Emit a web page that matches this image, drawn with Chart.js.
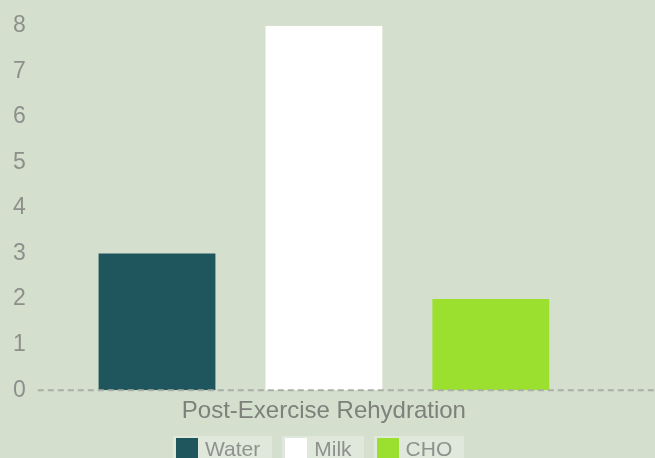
<!DOCTYPE html>
<html>
<head>
<meta charset="utf-8">
<script src="https://cdn.jsdelivr.net/npm/chart.js@4.4.1/dist/chart.umd.min.js"></script>
<style>
  html, body { margin: 0; padding: 0; overflow: hidden; background: #d4dfcd; }
  #wrap { position: relative; width: 655px; height: 458px; }
  #legend { position: absolute; left: 173px; top: 436px; display: flex;
            font-family: 'Liberation Sans', Arial, sans-serif; font-size: 21px; color: #8f918d; }
  .item { display: flex; align-items: center; height: 22px; padding: 2px 12px 10px 3px;
          margin-right: 10px; background: rgba(255,255,255,0.28); }
  .swatch { width: 22px; height: 22px; margin-right: 7px; }
</style>
</head>
<body>
<div id="wrap"><canvas id="chartArea"></canvas><div id="legend"></div></div>
<script>
'use strict'
const categories = ['Post-Exercise Rehydration'];
const seriesNames = ['Water', 'Milk', 'CHO'];
const waterValues = [3];
const milkValues = [8];
const choValues = [2];
const seriesColors = ['#1f565d', '#ffffff', '#9be02e'];
const yTicks = [0, 1, 2, 3, 4, 5, 6, 7, 8];

// dashed zero line, drawn over the bars and out to the right edge
const zeroLine = {
    id: 'zeroLine',
    afterDatasetsDraw(chart) {
        let ctx = chart.ctx;
        let y = chart.scales.y.getPixelForValue(0);
        ctx.save();
        ctx.strokeStyle = '#a9aea6';
        ctx.lineWidth = 2;
        ctx.setLineDash([6, 4]);
        ctx.beginPath();
        ctx.moveTo(chart.chartArea.left, y);
        ctx.lineTo(chart.width, y);
        ctx.stroke();
        ctx.restore();
    }
};

// html legend built from the chart's own legend items
const htmlLegend = {
    id: 'htmlLegend',
    afterUpdate(chart) {
        let box = document.getElementById('legend');
        box.innerHTML = '';
        let items = chart.options.plugins.legend.labels.generateLabels(chart);
        for (let i = 0; i < items.length; i++) {
            let item = document.createElement('div');
            item.className = 'item';
            let sw = document.createElement('span');
            sw.className = 'swatch';
            sw.style.background = items[i].fillStyle;
            let txt = document.createElement('span');
            txt.textContent = items[i].text;
            item.appendChild(sw);
            item.appendChild(txt);
            box.appendChild(item);
        }
    }
};

let datasets = [waterValues, milkValues, choValues].map(function (vals, i) {
    return {
        label: seriesNames[i],
        data: vals,
        backgroundColor: seriesColors[i],
        borderWidth: 0
    };
});

let ctx = document.getElementById('chartArea').getContext('2d');
let chart = new Chart(ctx, {
    type: 'bar',
    data: {
        labels: categories,
        datasets: datasets
    },
    plugins: [zeroLine, htmlLegend],
    options: {
        responsive: true,
        maintainAspectRatio: false,
        animation: false,
        layout: {
            padding: { left: 1, right: 45, top: 16, bottom: 25 }
        },
        datasets: {
            bar: { categoryPercentage: 0.875, barPercentage: 0.7 }
        },
        scales: {
            x: {
                grid: { display: false, drawTicks: false },
                border: { display: false },
                ticks: {
                    color: '#7d807b',
                    padding: 7,
                    font: { family: 'Liberation Sans', size: 24 }
                }
            },
            y: {
                min: 0,
                max: 8,
                grid: { display: false, drawTicks: false },
                border: { display: false },
                afterBuildTicks: function (scale) {
                    scale.ticks = yTicks.map(function (v) { return { value: v }; });
                },
                ticks: {
                    color: '#8d8f8b',
                    padding: 12,
                    font: { family: 'Liberation Sans', size: 23 }
                }
            }
        },
        plugins: {
            legend: { display: false },
            tooltip: { enabled: false }
        }
    }
});
</script>
</body>
</html>
